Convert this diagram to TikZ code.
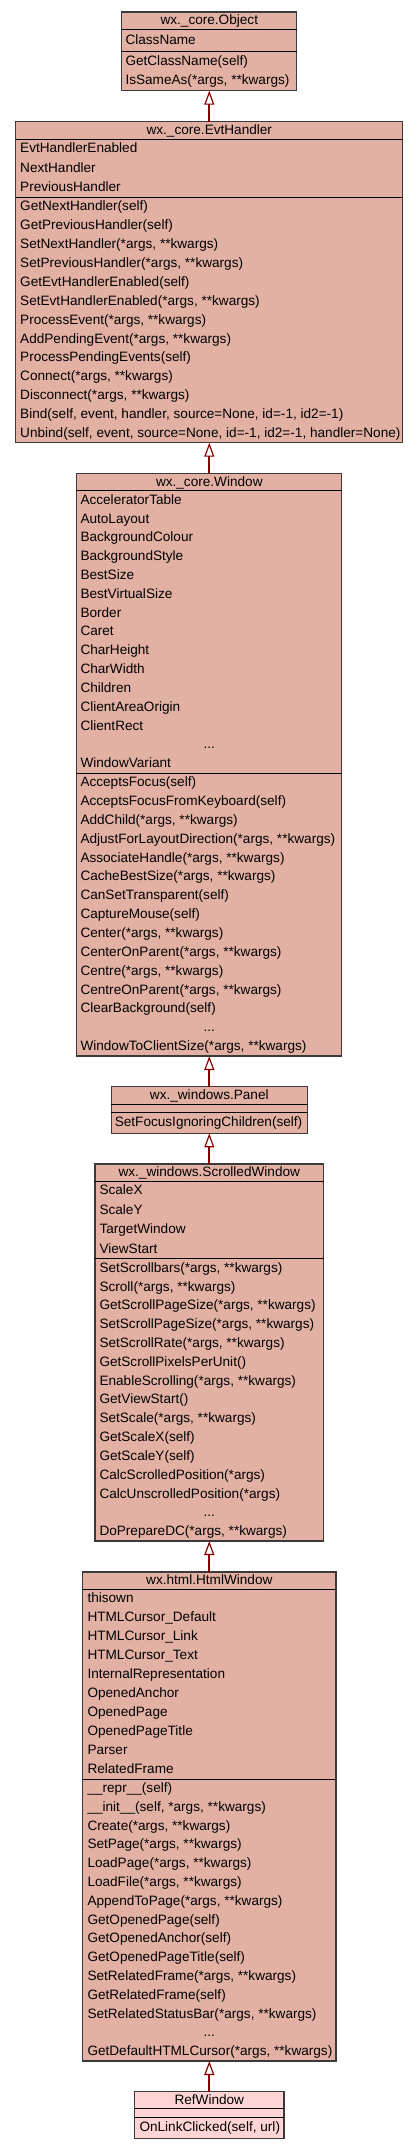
\documentclass[tikz,border=0pt]{standalone}
\usepackage{fontspec}
\setmainfont{Liberation Sans}
\usetikzlibrary{arrows.meta}
\definecolor{classfill}{HTML}{E3B1A4}
\definecolor{leaffill}{HTML}{FFD4D4}
\definecolor{inhcolor}{HTML}{8B0000}
\definecolor{bordercolor}{HTML}{3A3A3A}
\newcommand{\umlfont}{\fontsize{13.6}{16}\selectfont}
\tikzset{
  classbox/.style={draw=bordercolor, line width=1.3pt, fill=classfill, anchor=north, inner sep=0pt, outer sep=0pt},
  leafbox/.style={classbox, fill=leaffill},
  classtitle/.style={inner sep=0pt, font=\umlfont, text height=9.7pt, text depth=1.5pt},
  member/.style={classtitle, anchor=west},
  compartment/.style={draw=black, line width=0.9pt},
  inherit/.style={draw=inhcolor, line width=2pt, -{Triangle[open, width=10pt, length=14pt, line width=1.2pt]}},
}

\begin{document}
\begin{tikzpicture}[x=1pt, y=-1pt]
\useasboundingbox (0,0) rectangle (419,2149);
\fill[white] (0,0) rectangle (419,2149);

\node (obj) [classbox, minimum width=175pt, minimum height=78.7pt] at (209.3,12) {};
\draw[compartment] (obj.west |- 0,29.3) -- (obj.east |- 0,29.3);
\draw[compartment] (obj.west |- 0,51) -- (obj.east |- 0,51);
\node (obj-t) [classtitle] at (209.3,20.7) {wx.\_core.Object};
\node (obj-a1) [member] at (125.3,40.2) {ClassName};
\foreach \txt [count=\i] in {GetClassName(self), {IsSameAs(*args, **kwargs)}}
  \node (obj-m\i) [member] at (125.3,{51+(\i-0.5)*19.85}) {\txt};

\node (evt) [classbox, minimum width=387pt, minimum height=321pt] at (209.3,121.7) {};
\draw[compartment] (evt.west |- 0,139) -- (evt.east |- 0,139);
\draw[compartment] (evt.west |- 0,197.3) -- (evt.east |- 0,197.3);
\node (evt-t) [classtitle] at (209.3,130.4) {wx.\_core.EvtHandler};
\foreach \txt [count=\i] in {EvtHandlerEnabled, NextHandler, PreviousHandler}
  \node (evt-a\i) [member] at (20,{139+(\i-0.5)*19.43}) {\txt};
\foreach \txt [count=\i] in {GetNextHandler(self), GetPreviousHandler(self),
    {SetNextHandler(*args, **kwargs)}, {SetPreviousHandler(*args, **kwargs)},
    GetEvtHandlerEnabled(self), {SetEvtHandlerEnabled(*args, **kwargs)},
    {ProcessEvent(*args, **kwargs)}, {AddPendingEvent(*args, **kwargs)},
    ProcessPendingEvents(self), {Connect(*args, **kwargs)}, {Disconnect(*args, **kwargs)},
    {Bind(self, event, handler, source=None, id=-1, id2=-1)},
    {Unbind(self, event, source=None, id=-1, id2=-1, handler=None)}}
  \node (evt-m\i) [member] at (20,{197.3+(\i-0.5)*18.88}) {\txt};

\node (win) [classbox, minimum width=265pt, minimum height=582.6pt] at (209.3,473.4) {};
\draw[compartment] (win.west |- 0,490.7) -- (win.east |- 0,490.7);
\draw[compartment] (win.west |- 0,773) -- (win.east |- 0,773);
\node (win-t) [classtitle] at (209.3,482) {wx.\_core.Window};
\foreach \txt [count=\i] in {AcceleratorTable, AutoLayout, BackgroundColour, BackgroundStyle,
    BestSize, BestVirtualSize, Border, Caret, CharHeight, CharWidth, Children,
    ClientAreaOrigin, ClientRect}
  \node (win-a\i) [member] at (80.3,{490.7+(\i-0.5)*18.82}) {\txt};
\node (win-adots) [classtitle] at (209.3,{490.7+13.5*18.82}) {...};
\node (win-alast) [member] at (80.3,{490.7+14.5*18.82}) {WindowVariant};
\foreach \txt [count=\i] in {AcceptsFocus(self), AcceptsFocusFromKeyboard(self),
    {AddChild(*args, **kwargs)}, {AdjustForLayoutDirection(*args, **kwargs)},
    {AssociateHandle(*args, **kwargs)}, {CacheBestSize(*args, **kwargs)},
    CanSetTransparent(self), CaptureMouse(self), {Center(*args, **kwargs)},
    {CenterOnParent(*args, **kwargs)}, {Centre(*args, **kwargs)},
    {CentreOnParent(*args, **kwargs)}, ClearBackground(self)}
  \node (win-m\i) [member] at (80.3,{773+(\i-0.5)*18.87}) {\txt};
\node (win-mdots) [classtitle] at (209.3,{773+13.5*18.87}) {...};
\node (win-mlast) [member] at (80.3,{773+14.5*18.87}) {WindowToClientSize(*args, **kwargs)};

\node (panel) [classbox, minimum width=195.7pt, minimum height=46.6pt] at (209.3,1086.7) {};
\draw[compartment] (panel.west |- 0,1104.3) -- (panel.east |- 0,1104.3);
\draw[compartment] (panel.west |- 0,1112) -- (panel.east |- 0,1112);
\node (panel-t) [classtitle] at (209.3,1095.5) {wx.\_windows.Panel};
\node (panel-m1) [member] at (114.6,1122.6) {SetFocusIgnoringChildren(self)};

\node (scrolled) [classbox, minimum width=228.7pt, minimum height=377pt] at (209.3,1164) {};
\draw[compartment] (scrolled.west |- 0,1181) -- (scrolled.east |- 0,1181);
\draw[compartment] (scrolled.west |- 0,1258.7) -- (scrolled.east |- 0,1258.7);
\node (scrolled-t) [classtitle] at (209.3,1172.5) {wx.\_windows.ScrolledWindow};
\foreach \txt [count=\i] in {ScaleX, ScaleY, TargetWindow, ViewStart}
  \node (scrolled-a\i) [member] at (99.3,{1181+(\i-0.5)*19.43}) {\txt};
\foreach \txt [count=\i] in {{SetScrollbars(*args, **kwargs)}, {Scroll(*args, **kwargs)},
    {GetScrollPageSize(*args, **kwargs)}, {SetScrollPageSize(*args, **kwargs)},
    {SetScrollRate(*args, **kwargs)}, GetScrollPixelsPerUnit(),
    {EnableScrolling(*args, **kwargs)}, GetViewStart(), {SetScale(*args, **kwargs)},
    GetScaleX(self), GetScaleY(self), CalcScrolledPosition(*args),
    CalcUnscrolledPosition(*args)}
  \node (scrolled-m\i) [member] at (99.3,{1258.7+(\i-0.5)*18.82}) {\txt};
\node (scrolled-mdots) [classtitle] at (209.3,{1258.7+13.5*18.82}) {...};
\node (scrolled-mlast) [member] at (99.3,{1258.7+14.5*18.82}) {DoPrepareDC(*args, **kwargs)};

\node (html) [classbox, minimum width=253.3pt, minimum height=489pt] at (209.3,1572) {};
\draw[compartment] (html.west |- 0,1589.3) -- (html.east |- 0,1589.3);
\draw[compartment] (html.west |- 0,1779) -- (html.east |- 0,1779);
\node (html-t) [classtitle] at (209.3,1580.6) {wx.html.HtmlWindow};
\foreach \txt [count=\i] in {thisown, HTMLCursor\_Default, HTMLCursor\_Link, HTMLCursor\_Text,
    InternalRepresentation, OpenedAnchor, OpenedPage, OpenedPageTitle, Parser, RelatedFrame}
  \node (html-a\i) [member] at (87.3,{1589.3+(\i-0.5)*18.97}) {\txt};
\foreach \txt [count=\i] in {\_\_repr\_\_(self), {\_\_init\_\_(self, *args, **kwargs)},
    {Create(*args, **kwargs)}, {SetPage(*args, **kwargs)}, {LoadPage(*args, **kwargs)},
    {LoadFile(*args, **kwargs)}, {AppendToPage(*args, **kwargs)}, GetOpenedPage(self),
    GetOpenedAnchor(self), GetOpenedPageTitle(self), {SetRelatedFrame(*args, **kwargs)},
    GetRelatedFrame(self), {SetRelatedStatusBar(*args, **kwargs)}}
  \node (html-m\i) [member] at (87.3,{1779+(\i-0.5)*18.8}) {\txt};
\node (html-mdots) [classtitle] at (209.3,{1779+13.5*18.8}) {...};
\node (html-mlast) [member] at (87.3,{1779+14.5*18.8}) {GetDefaultHTMLCursor(*args, **kwargs)};

\node (ref) [leafbox, minimum width=149.3pt, minimum height=46.6pt] at (209.3,2091.7) {};
\draw[compartment] (ref.west |- 0,2108.7) -- (ref.east |- 0,2108.7);
\draw[compartment] (ref.west |- 0,2117.3) -- (ref.east |- 0,2117.3);
\node (ref-t) [classtitle] at (209.3,2100.2) {RefWindow};
\node (ref-m1) [member] at (139.3,2127.8) {OnLinkClicked(self, url)};

\draw[inherit] (evt.north) -- (obj.south);
\draw[inherit] (win.north) -- (evt.south);
\draw[inherit] (panel.north) -- (win.south);
\draw[inherit] (scrolled.north) -- (panel.south);
\draw[inherit] (html.north) -- (scrolled.south);
\draw[inherit] (ref.north) -- (html.south);
\end{tikzpicture}
\end{document}
